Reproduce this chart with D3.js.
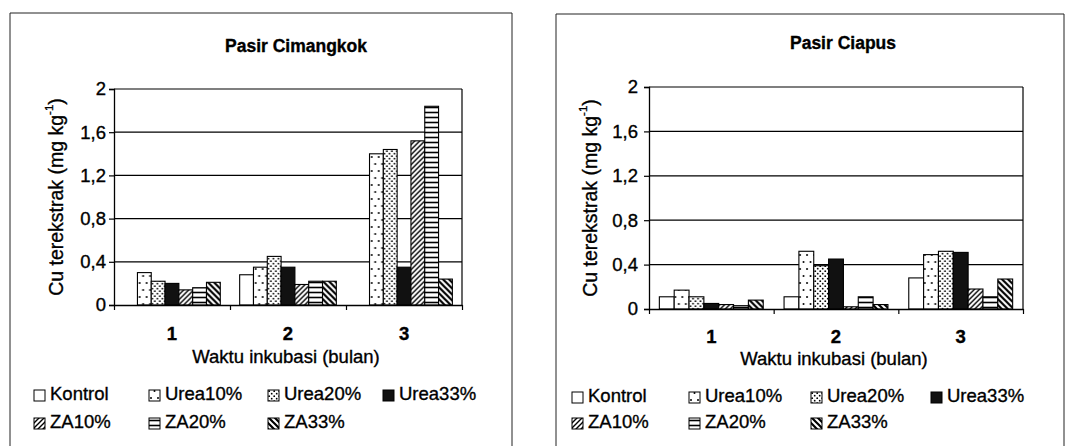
<!DOCTYPE html>
<html>
<head>
<meta charset="utf-8">
<script src="https://cdn.jsdelivr.net/npm/d3@7"></script>
<style>
  body { margin: 0; background: #fff; }
  text { font-family: "Liberation Sans", Arial, sans-serif; fill: #000; stroke: #000; stroke-width: 0.35px; }
</style>
</head>
<body>
<div id="chart"></div>
<script>
// categories and series
var months = ["1", "2", "3"];
var series = ["Kontrol", "Urea10%", "Urea20%", "Urea33%", "ZA10%", "ZA20%", "ZA33%"];
var yTicks = [0, 0.4, 0.8, 1.2, 1.6, 2];

// Pasir Cimangkok, one array per month (order = series)
var cimangkok1 = [0, 0.30, 0.22, 0.20, 0.14, 0.16, 0.21];
var cimangkok2 = [0.28, 0.35, 0.45, 0.35, 0.19, 0.22, 0.22];
var cimangkok3 = [0, 1.40, 1.44, 0.35, 1.52, 1.84, 0.24];

// Pasir Ciapus
var ciapus1 = [0.11, 0.17, 0.11, 0.05, 0.04, 0.03, 0.08];
var ciapus2 = [0.11, 0.52, 0.39, 0.45, 0.02, 0.11, 0.04];
var ciapus3 = [0.28, 0.49, 0.52, 0.51, 0.18, 0.11, 0.27];

var width = 1067, height = 446;
var fontSize = "18.5px";

var svg = d3.select("#chart").append("svg")
    .attr("width", width)
    .attr("height", height);

// fill patterns for the 7 series
var defs = svg.append("defs");

var p;
p = defs.append("pattern").attr("id", "pat1").attr("patternUnits", "userSpaceOnUse")
    .attr("width", 7).attr("height", 14);
p.append("rect").attr("width", 7).attr("height", 14).attr("fill", "#fff");
p.append("circle").attr("cx", 2).attr("cy", 3).attr("r", 1).attr("fill", "#000");
p.append("circle").attr("cx", 5.5).attr("cy", 10).attr("r", 1).attr("fill", "#000");

p = defs.append("pattern").attr("id", "pat2").attr("patternUnits", "userSpaceOnUse")
    .attr("width", 5).attr("height", 5);
p.append("rect").attr("width", 5).attr("height", 5).attr("fill", "#fff");
p.append("circle").attr("cx", 1.2).attr("cy", 1.2).attr("r", 0.9).attr("fill", "#000");
p.append("circle").attr("cx", 3.7).attr("cy", 3.7).attr("r", 0.9).attr("fill", "#000");

p = defs.append("pattern").attr("id", "pat4").attr("patternUnits", "userSpaceOnUse")
    .attr("width", 5).attr("height", 5);
p.append("rect").attr("width", 5).attr("height", 5).attr("fill", "#fff");
p.append("path").attr("d", "M-1,1 L1,-1 M0,5 L5,0 M4,6 L6,4")
    .attr("stroke", "#000").attr("stroke-width", 1.4);

p = defs.append("pattern").attr("id", "pat5").attr("patternUnits", "userSpaceOnUse")
    .attr("width", 5).attr("height", 5);
p.append("rect").attr("width", 5).attr("height", 5).attr("fill", "#fff");
p.append("line").attr("x1", 0).attr("x2", 5).attr("y1", 2.5).attr("y2", 2.5)
    .attr("stroke", "#000").attr("stroke-width", 1.6);

p = defs.append("pattern").attr("id", "pat6").attr("patternUnits", "userSpaceOnUse")
    .attr("width", 6).attr("height", 6);
p.append("rect").attr("width", 6).attr("height", 6).attr("fill", "#fff");
p.append("path").attr("d", "M-1,5 L1,7 M0,0 L6,6 M5,-1 L7,1")
    .attr("stroke", "#000").attr("stroke-width", 2.2);

var fills = ["#fff", "url(#pat1)", "url(#pat2)", "#111", "url(#pat4)", "url(#pat5)", "url(#pat6)"];

var fmt = function(d) { return String(d).replace(".", ","); };

function drawPanel(cfg) {
    var g = svg.append("g");

    // outer frame (bottom edge runs off the picture)
    g.append("path")
        .attr("d", "M" + cfg.box[0] + "," + (height + 2) + " L" + cfg.box[0] + "," + cfg.box[1] +
              " L" + cfg.box[2] + "," + cfg.box[1] + " L" + cfg.box[2] + "," + (height + 2))
        .attr("fill", "none").attr("stroke", "#222").attr("stroke-width", 1);

    g.append("text")
        .attr("x", cfg.titleX).attr("y", cfg.titleY)
        .attr("text-anchor", "middle").attr("dominant-baseline", "middle")
        .style("font-size", "17.5px").style("font-weight", "bold")
        .text(cfg.title);

    var x0 = d3.scaleBand().domain(months).range([cfg.left, cfg.right]).paddingInner(0.167).paddingOuter(0.083);
    var x1 = d3.scaleBand().domain(series).range([0, x0.bandwidth()]);
    var y = d3.scaleLinear().domain([0, 2]).range([cfg.bottom, cfg.top]);

    // gridlines
    g.append("g").selectAll("line").data(yTicks.slice(1)).enter().append("line")
        .attr("x1", cfg.left).attr("x2", cfg.right)
        .attr("y1", function(d) { return y(d); }).attr("y2", function(d) { return y(d); })
        .attr("stroke", "#000").attr("stroke-width", 1.2);

    // right edge of the plot area
    g.append("line")
        .attr("x1", cfg.right).attr("x2", cfg.right).attr("y1", cfg.top).attr("y2", cfg.bottom)
        .attr("stroke", "#000").attr("stroke-width", 1.2);

    // bars
    var groups = g.append("g").selectAll("g").data(cfg.data).enter().append("g")
        .attr("transform", function(d, i) { return "translate(" + x0(months[i]) + ",0)"; });
    groups.selectAll("rect")
        .data(function(d) { return d.map(function(v, j) { return { s: series[j], v: v, j: j }; })
                                     .filter(function(o) { return o.v > 0; }); })
        .enter().append("rect")
        .attr("x", function(d) { return x1(d.s); })
        .attr("width", x1.bandwidth())
        .attr("y", function(d) { return y(d.v); })
        .attr("height", function(d) { return cfg.bottom - y(d.v); })
        .attr("fill", function(d) { return fills[d.j]; })
        .attr("stroke", "#000").attr("stroke-width", 1.1);

    // y axis
    var yAxis = g.append("g")
        .attr("transform", "translate(" + cfg.left + ",0)")
        .call(d3.axisLeft(y).tickValues(yTicks).tickFormat(fmt).tickSize(5).tickPadding(cfg.pad));
    yAxis.select(".domain").attr("stroke", "#000").attr("stroke-width", 1.3);
    yAxis.selectAll(".tick line").attr("stroke", "#000").attr("stroke-width", 1.2);
    yAxis.selectAll("text").style("font-size", fontSize)
        .style("font-family", "Liberation Sans, Arial, sans-serif").attr("fill", "#000");

    // x axis line with ticks at the category boundaries
    var xLin = d3.scaleLinear().domain([0, 3]).range([cfg.left, cfg.right]);
    var xAxis = g.append("g")
        .attr("transform", "translate(0," + cfg.bottom + ")")
        .call(d3.axisBottom(xLin).tickValues([0, 1, 2, 3]).tickFormat("").tickSize(5).tickSizeOuter(0));
    xAxis.select(".domain").attr("stroke", "#000").attr("stroke-width", 1.3);
    xAxis.selectAll(".tick line").attr("stroke", "#000").attr("stroke-width", 1.2);

    // category labels
    g.append("g").selectAll("text").data(months).enter().append("text")
        .attr("x", function(d) { return x0(d) + x0.bandwidth() / 2; })
        .attr("y", cfg.catY)
        .attr("text-anchor", "middle").attr("dominant-baseline", "middle")
        .style("font-size", fontSize).style("font-weight", "bold")
        .text(function(d) { return d; });

    g.append("text")
        .attr("x", (cfg.left + cfg.right) / 2 - 2).attr("y", cfg.xTitleY)
        .attr("text-anchor", "middle").attr("dominant-baseline", "middle")
        .style("font-size", fontSize)
        .text("Waktu inkubasi (bulan)");

    // y axis title with superscript
    var yt = g.append("text")
        .attr("transform", "translate(" + cfg.yTitleX + "," + ((cfg.top + cfg.bottom) / 2) + ") rotate(-90)")
        .attr("text-anchor", "middle").attr("dominant-baseline", "middle")
        .style("font-size", "19.5px");
    yt.append("tspan").text("Cu terekstrak (mg kg");
    yt.append("tspan").attr("dy", -8).style("font-size", "11.5px").text("-1");
    yt.append("tspan").attr("dy", 8).text(")");

    // legend
    var leg = g.append("g").selectAll("g").data(series).enter().append("g")
        .attr("transform", function(d, i) {
            return "translate(" + cfg.legX[i % 4] + "," + cfg.legY[Math.floor(i / 4)] + ")";
        });
    leg.append("rect")
        .attr("x", 0).attr("y", -5).attr("width", 11).attr("height", 11)
        .attr("fill", function(d, i) { return fills[i]; })
        .attr("stroke", "#000").attr("stroke-width", 1);
    leg.append("text")
        .attr("x", 16).attr("y", 0)
        .attr("dominant-baseline", "middle")
        .style("font-size", fontSize)
        .text(function(d) { return d; });
}

drawPanel({
    title: "Pasir Cimangkok",
    data: [cimangkok1, cimangkok2, cimangkok3],
    box: [10, 13, 512],
    left: 114, right: 462, top: 89, bottom: 305,
    titleX: 296, titleY: 47,
    yTitleX: 58, catY: 335, xTitleY: 358, pad: 3,
    legX: [34, 149, 268, 383], legY: [395, 423]
});

drawPanel({
    title: "Pasir Ciapus",
    data: [ciapus1, ciapus2, ciapus3],
    box: [556, 14, 1064],
    left: 649, right: 1023, top: 87, bottom: 309,
    titleX: 843, titleY: 44,
    yTitleX: 592, catY: 338, xTitleY: 360, pad: 6,
    legX: [572, 689, 811, 931], legY: [397, 423]
});
</script>
</body>
</html>
